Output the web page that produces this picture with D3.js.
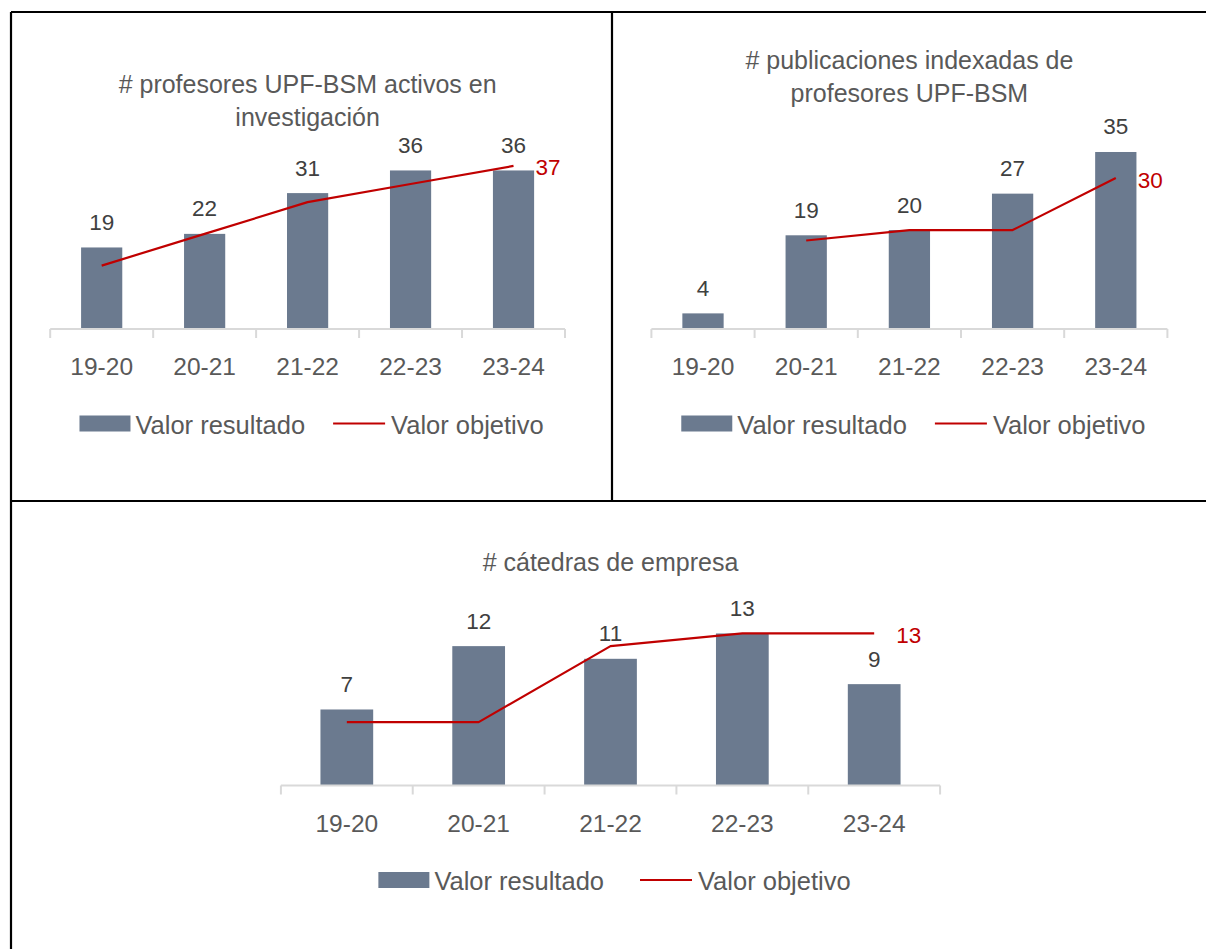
<!DOCTYPE html>
<html>
<head>
<meta charset="utf-8">
<script src="https://cdn.jsdelivr.net/npm/d3@7"></script>
<style>
  html, body { margin: 0; padding: 0; background: #fff; }
  svg { display: block; font-family: "Liberation Sans", Arial, sans-serif; }
</style>
</head>
<body>
<svg id="chart" width="1206" height="949"></svg>
<script>
// ---------- data ----------
const categories = ["19-20", "20-21", "21-22", "22-23", "23-24"];

const profTitle = ["# profesores UPF-BSM activos en", "investigación"];
const profResult = [19, 22, 31, 36, 36];
const profTarget = [15, 22, 29, 33, 37];

const pubTitle = ["# publicaciones indexadas de", "profesores UPF-BSM"];
const pubResult = [4, 19, 20, 27, 35];
const pubTarget = [null, 18, 20, 20, 30];

const catTitle = ["# cátedras de empresa"];
const catResult = [7, 12, 11, 13, 9];
const catTarget = [6, 6, 12, 13, 13];

const legendLabels = ["Valor resultado", "Valor objetivo"];

// ---------- style ----------
const BAR = "#6B7A8F";
const RED = "#C00000";
const GREY_TEXT = "#595959";
const DARK_TEXT = "#404040";
const AXIS = "#D9D9D9";

const svg = d3.select("#chart");

// panel borders
const borders = [
  [11, 12, 1206, 12],
  [11, 12, 11, 949],
  [612, 12, 612, 501],
  [11, 501, 1206, 501]
];
svg.append("g").selectAll("line").data(borders).join("line")
  .attr("x1", d => d[0]).attr("y1", d => d[1])
  .attr("x2", d => d[2]).attr("y2", d => d[3])
  .attr("stroke", "#000").attr("stroke-width", 2.2);

// ---------- chart builder ----------
function drawChart(cfg) {
  const g = svg.append("g");
  const x = d3.scaleBand().domain(categories)
    .range([cfg.x0, cfg.x1]).paddingInner(0.6).paddingOuter(0.3);
  const y = d3.scaleLinear().domain([1, cfg.yMax])
    .range([cfg.axisY, cfg.axisY - (cfg.yMax - 1) * cfg.ppu]);
  const cx = c => x(c) + x.bandwidth() / 2;
  const midX = (cfg.x0 + cfg.x1) / 2;

  // title
  g.append("text")
    .attr("text-anchor", "middle")
    .attr("fill", GREY_TEXT)
    .style("font-size", "25px")
    .selectAll("tspan").data(cfg.title).join("tspan")
    .attr("x", midX)
    .attr("y", (d, i) => cfg.titleY + i * 33)
    .text(d => d);

  // bars
  g.selectAll("rect.bar").data(cfg.result).join("rect")
    .attr("class", "bar")
    .attr("x", (d, i) => x(categories[i]))
    .attr("width", x.bandwidth())
    .attr("y", d => y(d))
    .attr("height", d => y(1) - y(d))
    .attr("fill", BAR);

  // axis line + boundary ticks
  g.append("line")
    .attr("x1", cfg.x0).attr("x2", cfg.x1)
    .attr("y1", y(1)).attr("y2", y(1))
    .attr("stroke", AXIS).attr("stroke-width", 2);
  const bounds = d3.range(categories.length + 1).map(i => cfg.x0 + i * x.step());
  g.selectAll("line.tick").data(bounds).join("line")
    .attr("class", "tick")
    .attr("x1", d => d).attr("x2", d => d)
    .attr("y1", y(1)).attr("y2", y(1) + 9)
    .attr("stroke", AXIS).attr("stroke-width", 2);

  // category labels
  g.selectAll("text.cat").data(categories).join("text")
    .attr("class", "cat")
    .attr("x", d => cx(d))
    .attr("y", y(1) + 46)
    .attr("text-anchor", "middle")
    .attr("fill", GREY_TEXT)
    .style("font-size", "24.5px")
    .text(d => d);

  // value labels
  g.selectAll("text.val").data(cfg.result).join("text")
    .attr("class", "val")
    .attr("x", (d, i) => cx(categories[i]))
    .attr("y", d => y(d) - 17.5)
    .attr("text-anchor", "middle")
    .attr("fill", DARK_TEXT)
    .style("font-size", "22.5px")
    .text(d => d);

  // target line
  const pts = cfg.target.map((v, i) => ({ c: categories[i], v }));
  const line = d3.line().defined(d => d.v != null)
    .x(d => cx(d.c)).y(d => y(d.v));
  g.append("path").datum(pts)
    .attr("d", line)
    .attr("fill", "none")
    .attr("stroke", RED)
    .attr("stroke-width", 2.2)
    .attr("stroke-linejoin", "round");

  // last target label
  const last = pts[pts.length - 1];
  g.append("text")
    .attr("x", cx(last.c) + 22)
    .attr("y", y(last.v) + 2)
    .attr("dominant-baseline", "central")
    .attr("fill", RED)
    .style("font-size", "22.5px")
    .text(last.v);

  // legend
  const lg = g.append("g");
  const legY = y(1) + 94.5; // centre line of the legend
  const rect = lg.append("rect").attr("width", 51).attr("height", 16).attr("fill", BAR);
  const t1 = lg.append("text").attr("fill", GREY_TEXT).style("font-size", "25.5px")
    .attr("dominant-baseline", "central").text(legendLabels[0]);
  const ln = lg.append("line").attr("stroke", RED).attr("stroke-width", 2.2);
  const t2 = lg.append("text").attr("fill", GREY_TEXT).style("font-size", "25.5px")
    .attr("dominant-baseline", "central").text(legendLabels[1]);
  const w1 = t1.node().getComputedTextLength();
  const w2 = t2.node().getComputedTextLength();
  const gap = cfg.legendGap;
  const total = 51 + 5 + w1 + gap + 52 + 6 + w2;
  let lx = midX + 4 - total / 2;
  rect.attr("x", lx).attr("y", legY - 8);
  lx += 51 + 5;
  t1.attr("x", lx).attr("y", legY + 1);
  lx += w1 + gap;
  ln.attr("x1", lx).attr("x2", lx + 52).attr("y1", legY).attr("y2", legY);
  lx += 52 + 6;
  t2.attr("x", lx).attr("y", legY + 1);
}

drawChart({
  title: profTitle, result: profResult, target: profTarget,
  x0: 50.2, x1: 565, axisY: 329, ppu: 4.53, yMax: 40, titleY: 93.3, legendGap: 28
});
drawChart({
  title: pubTitle, result: pubResult, target: pubTarget,
  x0: 651.4, x1: 1167.4, axisY: 329, ppu: 5.206, yMax: 40, titleY: 69.3, legendGap: 28
});
drawChart({
  title: catTitle, result: catResult, target: catTarget,
  x0: 280.9, x1: 940.1, axisY: 785.5, ppu: 12.67, yMax: 15, titleY: 570.7, legendGap: 36
});
</script>
</body>
</html>
